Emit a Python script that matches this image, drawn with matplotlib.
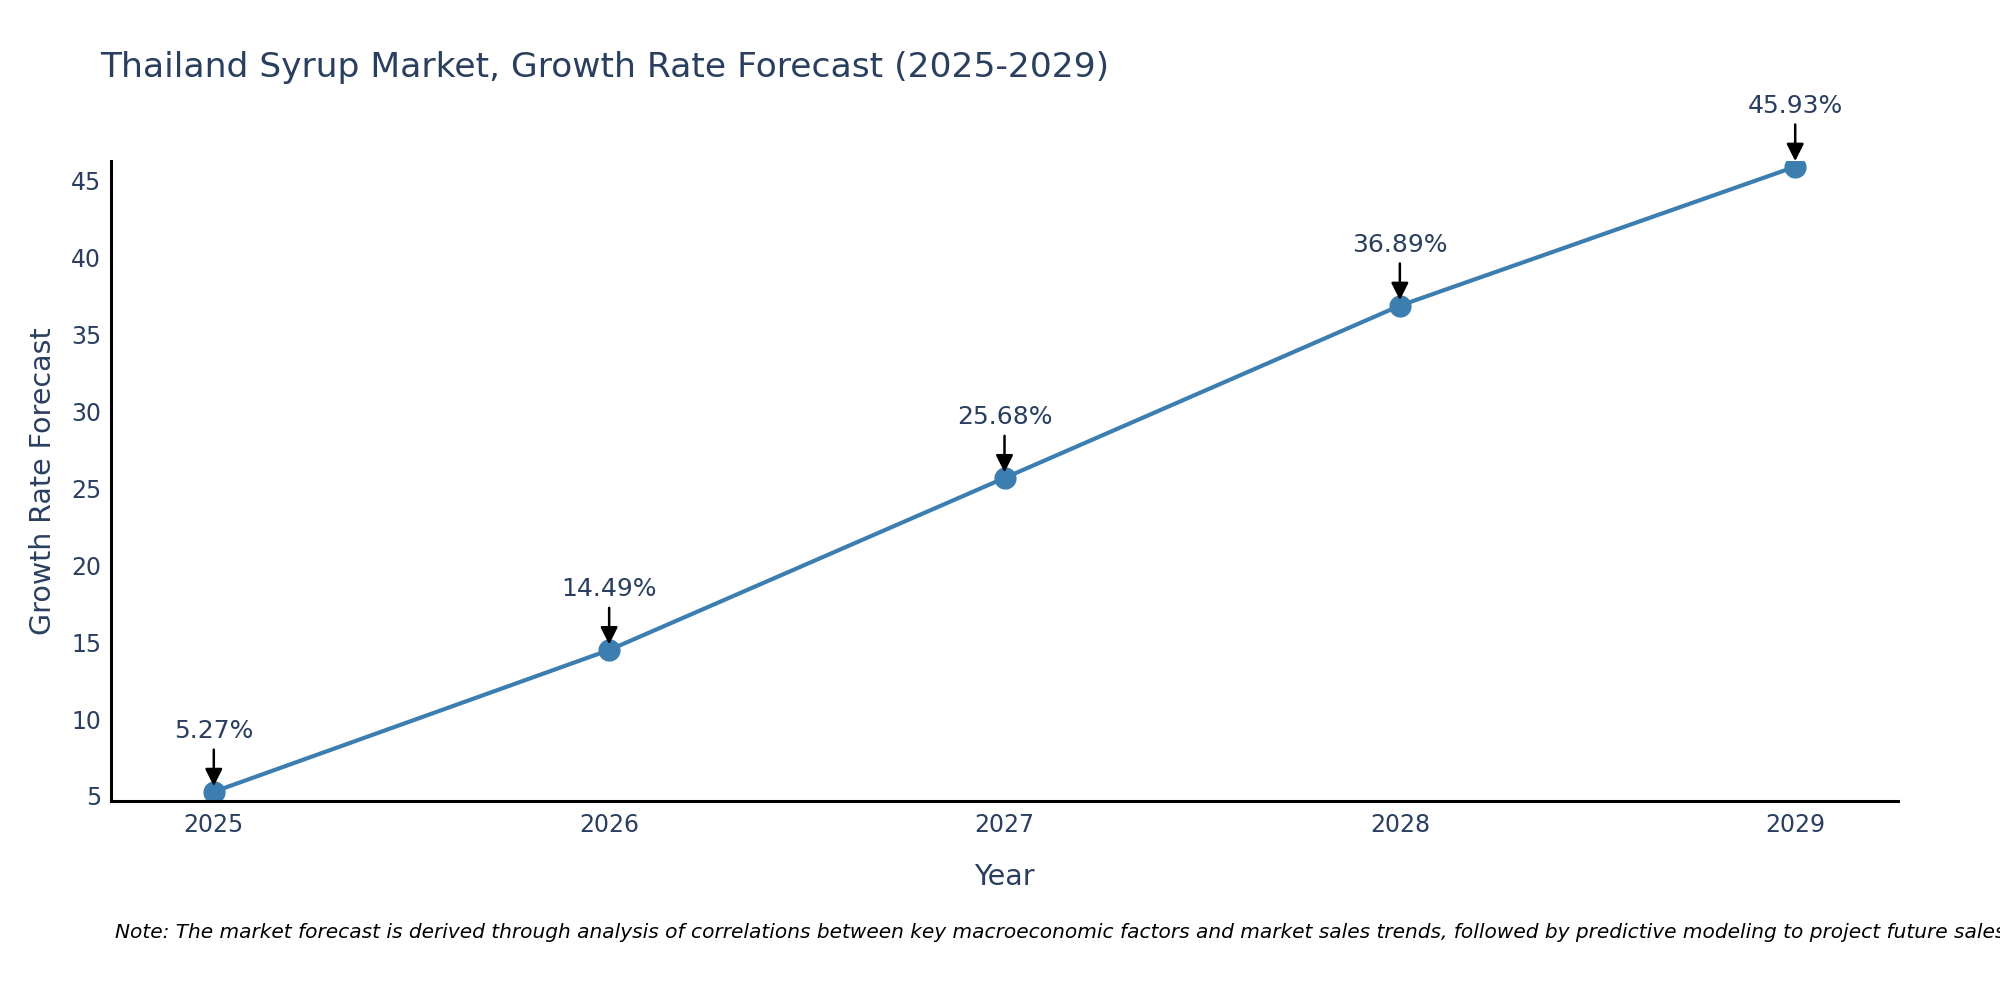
import matplotlib
matplotlib.use("Agg")
import matplotlib.pyplot as plt

years = [2025, 2026, 2027, 2028, 2029]
growth = [5.27, 14.49, 25.68, 36.89, 45.93]
labels = ["5.27%", "14.49%", "25.68%", "36.89%", "45.93%"]

text_color = "#2a3f5f"
line_color = "#3d7eb0"

plt.rcParams["font.family"] = ["DejaVu Sans"]

fig = plt.figure(figsize=(20, 10), dpi=100)
ax = fig.add_axes([0.0555, 0.199, 0.8935, 0.64])

ax.plot(years, growth, color=line_color, linewidth=3, marker="o",
        markersize=15, markerfacecolor=line_color, markeredgecolor=line_color)

for x, y, lab in zip(years, growth, labels):
    ax.annotate(lab, xy=(x, y), xytext=(0, 44), textcoords="offset points",
                ha="center", va="center", fontsize=18, color=text_color,
                arrowprops=dict(arrowstyle="-|>", color="black", lw=1.8,
                                mutation_scale=26, shrinkA=3, shrinkB=4))

ax.set_xlim(2024.74, 2029.26)
ax.set_ylim(4.67, 46.3)
ax.set_xticks(years)
ax.set_xticklabels([str(y) for y in years])
ax.set_yticks([5, 10, 15, 20, 25, 30, 35, 40, 45])

for side in ["top", "right"]:
    ax.spines[side].set_visible(False)
for side in ["left", "bottom"]:
    ax.spines[side].set_linewidth(2.2)
    ax.spines[side].set_color("black")

ax.tick_params(axis="both", length=0, labelsize=17, labelcolor=text_color)
ax.tick_params(axis="x", pad=8.5)
ax.tick_params(axis="y", pad=7)

ax.set_xlabel("Year", fontsize=20.5, color=text_color, labelpad=19)
ax.set_ylabel("Growth Rate Forecast", fontsize=20.5, color=text_color, labelpad=10)

fig.text(0.05, 0.932, "Thailand Syrup Market, Growth Rate Forecast (2025-2029)",
         fontsize=24.8, color=text_color, ha="left", va="center")

fig.text(0.0575, 0.068,
         "Note: The market forecast is derived through analysis of correlations between key "
         "macroeconomic factors and market sales trends, followed by predictive modeling to "
         "project future sales.",
         fontsize=14.5, style="italic", color="black", ha="left", va="center")

fig.savefig("out.png", dpi=100, facecolor="white")
